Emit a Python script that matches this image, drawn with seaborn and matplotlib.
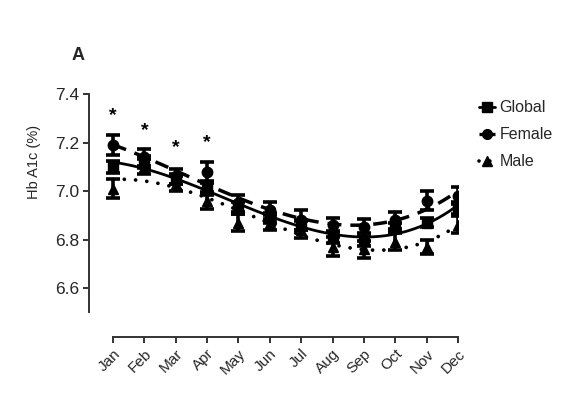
import numpy as np
import pandas as pd
import seaborn as sns
import matplotlib
matplotlib.use("Agg")
import matplotlib.pyplot as plt
from matplotlib.lines import Line2D

months = ["Jan", "Feb", "Mar", "Apr", "May", "Jun", "Jul", "Aug", "Sep", "Oct", "Nov", "Dec"]
global_vals = [7.10, 7.12, 7.05, 7.01, 6.93, 6.89, 6.86, 6.81, 6.80, 6.85, 6.87, 6.93]
global_err = [0.025, 0.025, 0.02, 0.025, 0.025, 0.02, 0.02, 0.025, 0.025, 0.02, 0.02, 0.025]
female_vals = [7.19, 7.14, 7.06, 7.08, 6.95, 6.92, 6.88, 6.86, 6.85, 6.88, 6.96, 6.98]
female_err = [0.04, 0.035, 0.03, 0.04, 0.035, 0.035, 0.04, 0.03, 0.035, 0.035, 0.04, 0.035]
male_vals = [7.01, 7.10, 7.03, 6.96, 6.87, 6.87, 6.84, 6.77, 6.76, 6.79, 6.77, 6.86]
male_err = [0.04, 0.03, 0.03, 0.035, 0.035, 0.03, 0.035, 0.04, 0.035, 0.035, 0.03, 0.035]
star_months = ["Jan", "Feb", "Mar", "Apr"]
star_y = [7.31, 7.25, 7.18, 7.20]
series_names = ["Global", "Female", "Male"]

sns.set_style("white")
plt.rcParams["font.family"] = ["Liberation Sans", "DejaVu Sans"]

fig = plt.figure(figsize=(5.83, 3.99), dpi=100)
ax = fig.add_axes([0.1527, 0.1554, 0.6329, 0.6090])

x = np.arange(len(months))
series = [
    ("Global", global_vals, global_err, "s", "-", 2.0),
    ("Female", female_vals, female_err, "o", (0, (4.0, 2.6)), 2.5),
    ("Male", male_vals, male_err, "^", (0, (0.01, 3.0)), 2.7),
]

for name, vals, err, mk, ls, lw in series:
    df = pd.DataFrame({"month": x, "val": vals})
    sns.regplot(data=df, x="month", y="val", order=3, ci=None, scatter=False, ax=ax,
                line_kws=dict(color="black", linestyle=ls, linewidth=lw,
                              dash_capstyle="round" if name == "Male" else "butt",
                              solid_capstyle="butt"))
for name, vals, err, mk, ls, lw in series[::-1]:
    ax.errorbar(x, vals, yerr=err, fmt=mk, color="black", markersize=7.5,
                ecolor="black", elinewidth=2.6, capsize=5, capthick=2.6, zorder=3)

for m, yv in zip(star_months, star_y):
    ax.text(months.index(m), yv, "*", ha="center", va="center", fontsize=14,
            fontweight="bold", color="black")

ax.set_xlim(-0.765, 11.0)
ax.set_ylim(6.398, 7.4)
ax.set_xticks(x)
ax.set_xticklabels(months, rotation=45, ha="right", rotation_mode="anchor", fontsize=11)
ax.set_yticks([6.6, 6.8, 7.0, 7.2, 7.4])
ax.set_yticklabels(["6.6", "6.8", "7.0", "7.2", "7.4"], fontsize=12.5)
ax.set_xlabel("")
ax.set_ylabel("Hb A1c (%)", fontsize=10.5)
ax.yaxis.set_label_coords(-0.13, 0.72)

for s in ["top", "right"]:
    ax.spines[s].set_visible(False)
for s in ["left", "bottom"]:
    ax.spines[s].set_color("#333333")
    ax.spines[s].set_linewidth(1.4)
ax.spines["left"].set_bounds(6.5, 7.4)
ax.spines["bottom"].set_bounds(0, 11)
ax.tick_params(axis="both", direction="out", length=4, width=1.4, color="#333333",
               left=True, bottom=True, pad=3)

handles = [
    Line2D([0], [0], color="black", linestyle="-", linewidth=2, marker="s", markersize=7),
    Line2D([0], [0], color="black", linestyle=(0, (2, 1.5)), linewidth=2.4, marker="o", markersize=7),
    Line2D([0], [0], color="black", linestyle=(0, (0.01, 3)), linewidth=2.6, marker="^",
           markersize=7, dash_capstyle="round"),
]
fig.legend(handles, series_names, loc="upper left", bbox_to_anchor=(0.81, 0.765),
           frameon=False, fontsize=11.5, handlelength=1.0, handletextpad=0.3,
           labelspacing=0.75, borderaxespad=0)

fig.text(0.134, 0.862, "A", fontsize=13, fontweight="bold", ha="center", va="center")

fig.savefig("out.png", dpi=100)
